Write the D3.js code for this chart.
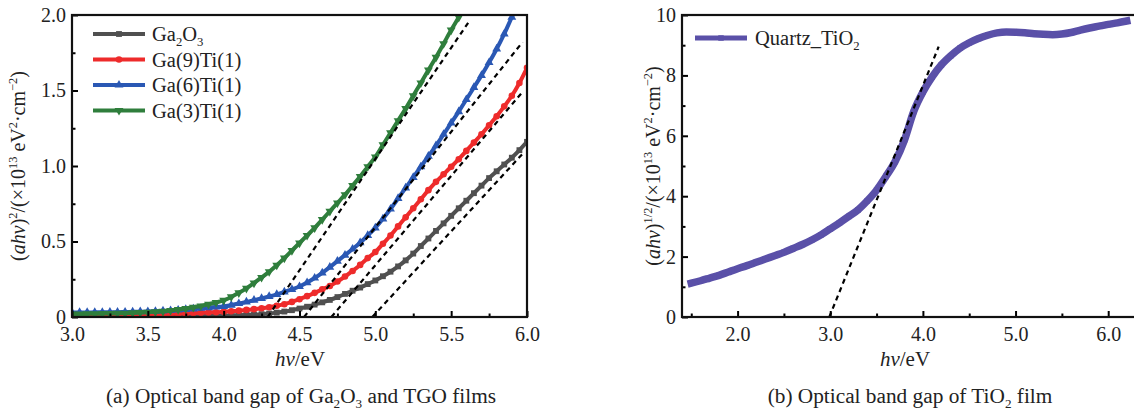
<!DOCTYPE html>
<html>
<head>
<meta charset="utf-8">
<script src="https://cdn.jsdelivr.net/npm/d3@7"></script>
<style>
body { margin: 0; background: #fff; }
text { font-family: "Liberation Serif", "Times New Roman", serif; fill: #222; }
</style>
</head>
<body>
<script>
// ---- data: panel (a) ----
var hvA = [3.00,3.05,3.10,3.15,3.20,3.25,3.30,3.35,3.40,3.45,3.50,3.55,3.60,3.65,3.70,3.75,3.80,3.85,3.90,3.95,4.00,
  4.05,4.10,4.15,4.20,4.25,4.30,4.35,4.40,4.45,4.50,4.55,4.60,4.65,4.70,4.75,4.80,4.85,4.90,4.95,5.00,
  5.05,5.10,5.15,5.20,5.25,5.30,5.35,5.40,5.45,5.50,5.55,5.60,5.65,5.70,5.75,5.80,5.85,5.90,5.95,6.00];

var ga2o3 = [.005,.005,.005,.005,.006,.006,.006,.006,.007,.007,.007,.007,.008,.008,.008,.008,.009,.009,.009,.010,.010,
  .011,.012,.014,.016,.019,.023,.029,.036,.045,.056,.068,.082,.097,.113,.132,.153,.174,.195,.218,.242,
  .270,.300,.335,.375,.420,.470,.520,.570,.620,.670,.720,.770,.820,.870,.920,.965,1.010,1.055,1.105,1.160];
var ga9ti1 = [.010,.010,.010,.011,.011,.012,.012,.013,.014,.015,.016,.017,.018,.020,.022,.024,.026,.028,.030,.032,.035,
  .038,.042,.047,.052,.058,.065,.074,.085,.100,.118,.138,.160,.183,.205,.235,.268,.305,.345,.390,.430,
  .485,.540,.600,.660,.720,.780,.840,.895,.945,.995,1.045,1.100,1.155,1.210,1.270,1.330,1.395,1.465,1.550,1.650];
var ga6ti1 = [.030,.030,.030,.031,.031,.032,.032,.033,.034,.035,.036,.038,.040,.043,.046,.050,.054,.058,.062,.066,.070,
  .079,.089,.100,.111,.123,.136,.150,.166,.183,.202,.228,.258,.292,.330,.370,.410,.450,.492,.540,.590,
  .650,.715,.785,.855,.925,.995,1.065,1.135,1.210,1.285,1.360,1.440,1.520,1.600,1.685,1.775,1.875,1.985,2.090];
var ga3ti1 = [.020,.020,.021,.021,.022,.023,.024,.025,.027,.029,.031,.034,.038,.043,.049,.056,.064,.073,.084,.096,.110,
  .133,.160,.190,.225,.262,.300,.343,.390,.440,.490,.540,.590,.645,.700,.755,.810,.870,.930,.995,1.060,
  1.140,1.220,1.300,1.380,1.465,1.550,1.635,1.720,1.810,1.900,1.985,2.070];

// linear fits (dashed), [hv, value] end points
var fitsA = [
  [[4.98, 0], [5.97, 1.08]],
  [[4.71, 0], [5.97, 1.49]],
  [[4.53, 0], [5.97, 1.82]],
  [[4.29, 0], [5.62, 1.96]]
];

var xTicksA = [3.0, 3.5, 4.0, 4.5, 5.0, 5.5, 6.0];
var xMinorA = [3.25, 3.75, 4.25, 4.75, 5.25, 5.75];
var yTicksA = [0, 0.5, 1.0, 1.5, 2.0];
var yMinorA = [0.25, 0.75, 1.25, 1.75];

// ---- data: panel (b) ----
var hvB = [1.5,1.6,1.7,1.8,1.9,2.0,2.1,2.2,2.3,2.4,2.5,2.6,2.7,2.8,2.9,3.0,3.1,3.2,3.3,3.4,3.5,3.6,3.7,3.8,3.9,
  4.0,4.1,4.2,4.3,4.4,4.5,4.6,4.7,4.8,4.9,5.0,5.1,5.2,5.3,5.4,5.5,5.6,5.7,5.8,5.9,6.0,6.1,6.2];
var quartzTiO2 = [1.12,1.20,1.29,1.38,1.49,1.60,1.70,1.81,1.92,2.03,2.14,2.27,2.40,2.55,2.72,2.92,3.12,3.33,3.55,3.85,4.20,4.65,5.15,5.85,6.80,
  7.45,7.95,8.35,8.65,8.90,9.08,9.22,9.33,9.41,9.44,9.43,9.41,9.38,9.36,9.35,9.37,9.42,9.50,9.57,9.63,9.69,9.74,9.80];
var fitB = [[2.99, 0], [4.17, 8.95]];

var xTicksB = [2.0, 3.0, 4.0, 5.0, 6.0];
var xMinorB = [1.5, 2.5, 3.5, 4.5, 5.5];
var yTicksB = [0, 2, 4, 6, 8, 10];
var yMinorB = [1, 3, 5, 7, 9];

var seriesA = [
  {name: [["Ga"], ["2", "sub"], ["O"], ["3", "sub"]], values: ga2o3, color: "#505050", symbol: d3.symbolSquare, rot: 0},
  {name: [["Ga(9)Ti(1)"]], values: ga9ti1, color: "#ee2b2b", symbol: d3.symbolCircle, rot: 0},
  {name: [["Ga(6)Ti(1)"]], values: ga6ti1, color: "#2a58b4", symbol: d3.symbolTriangle, rot: 0},
  {name: [["Ga(3)Ti(1)"]], values: ga3ti1, color: "#2f7e3c", symbol: d3.symbolTriangle, rot: 180}
];
var purple = "#5a50a8";

var W = 1134, H = 413;
var svg = d3.select("body").append("svg").attr("width", W).attr("height", H);

// text with italic / sub / sup pieces
function richText(g, parts, size) {
  var t = g.append("text").attr("font-size", size);
  var shift = 0;
  parts.forEach(function(p) {
    var ts = t.append("tspan").text(p[0]);
    var kind = p[1] || "";
    var target = 0;
    if (kind == "sup") { target = -size * 0.38; ts.attr("font-size", size * 0.62); }
    if (kind == "sub") { target = size * 0.22; ts.attr("font-size", size * 0.62); }
    if (kind == "it") ts.attr("font-style", "italic");
    if (target - shift != 0) ts.attr("dy", target - shift);
    shift = target;
  });
  return t;
}

function drawFrame(g, x, y, xt, xm, yt, ym, xfmt, yfmt) {
  var x0 = x.range()[0], x1 = x.range()[1], y0 = y.range()[0], y1 = y.range()[1];
  g.append("g").attr("transform", "translate(0," + y0 + ")")
    .call(d3.axisBottom(x).tickValues(xt).tickSizeInner(-6).tickSizeOuter(0).tickPadding(10).tickFormat(xfmt))
    .call(function(a) { a.select(".domain").remove(); a.selectAll("line").attr("stroke-width", 2); a.selectAll("text").attr("font-size", 20).attr("font-family", "Liberation Serif").attr("fill", "#222"); });
  g.append("g").attr("transform", "translate(0," + y0 + ")")
    .call(d3.axisBottom(x).tickValues(xm).tickSizeInner(-3.5).tickSizeOuter(0).tickFormat(""))
    .call(function(a) { a.select(".domain").remove(); a.selectAll("line").attr("stroke-width", 2); });
  g.append("g").attr("transform", "translate(" + x0 + ",0)")
    .call(d3.axisLeft(y).tickValues(yt).tickSizeInner(-6).tickSizeOuter(0).tickPadding(6).tickFormat(yfmt))
    .call(function(a) { a.select(".domain").remove(); a.selectAll("line").attr("stroke-width", 2); a.selectAll("text").attr("font-size", 20).attr("font-family", "Liberation Serif").attr("fill", "#222"); });
  g.append("g").attr("transform", "translate(" + x0 + ",0)")
    .call(d3.axisLeft(y).tickValues(ym).tickSizeInner(-3.5).tickSizeOuter(0).tickFormat(""))
    .call(function(a) { a.select(".domain").remove(); a.selectAll("line").attr("stroke-width", 2); });
  g.append("rect").attr("x", x0).attr("y", y1).attr("width", x1 - x0).attr("height", y0 - y1)
    .attr("fill", "none").attr("stroke", "#111").attr("stroke-width", 2.2);
}

// ---------------- panel (a) ----------------
var xA = d3.scaleLinear().domain([3, 6]).range([72, 527]);
var yA = d3.scaleLinear().domain([0, 2]).range([317, 15]);
var gA = svg.append("g");

svg.append("clipPath").attr("id", "clipA").append("rect")
  .attr("x", xA(3)).attr("y", yA(2)).attr("width", xA(6) - xA(3)).attr("height", yA(0) - yA(2));
var plotA = gA.append("g").attr("clip-path", "url(#clipA)");

var lineA = d3.line().x(function(d) { return xA(d[0]); }).y(function(d) { return yA(d[1]); }).curve(d3.curveMonotoneX);

seriesA.forEach(function(s) {
  var pts = s.values.map(function(v, i) { return [hvA[i], v]; });
  plotA.append("path").datum(pts).attr("d", lineA)
    .attr("fill", "none").attr("stroke", s.color).attr("stroke-width", 4);
  plotA.selectAll(null).data(pts).enter().append("path")
    .attr("d", d3.symbol().type(s.symbol).size(34))
    .attr("transform", function(d) { return "translate(" + xA(d[0]) + "," + yA(d[1]) + ") rotate(" + s.rot + ")"; })
    .attr("fill", s.color);
});

fitsA.forEach(function(f) {
  plotA.append("path").datum(f).attr("d", d3.line().x(function(d) { return xA(d[0]); }).y(function(d) { return yA(d[1]); }))
    .attr("fill", "none").attr("stroke", "#000").attr("stroke-width", 2.2).attr("stroke-dasharray", "5,4");
});

drawFrame(gA, xA, yA, xTicksA, xMinorA, yTicksA, yMinorA, d3.format(".1f"), function(d) { return d == 0 ? "0" : d3.format(".1f")(d); });

// legend (a)
seriesA.forEach(function(s, i) {
  var ly = 34 + i * 25.5;
  var lg = gA.append("g");
  lg.append("line").attr("x1", 93).attr("x2", 145).attr("y1", ly).attr("y2", ly)
    .attr("stroke", s.color).attr("stroke-width", 4);
  lg.append("path").attr("d", d3.symbol().type(s.symbol).size(34))
    .attr("transform", "translate(119," + ly + ") rotate(" + s.rot + ")").attr("fill", s.color);
  richText(lg, s.name, 20.5).attr("x", 152).attr("y", ly + 7);
});

richText(gA, [["("], ["ahv", "it"], [")"], ["2", "sup"], ["/(×10"], ["13", "sup"], [" eV"], ["2", "sup"], ["·cm"], ["−2", "sup"], [")"]], 20)
  .attr("text-anchor", "middle").attr("transform", "translate(25,166) rotate(-90)");
richText(gA, [["hv", "it"], ["/eV"]], 21).attr("text-anchor", "middle").attr("x", 300).attr("y", 366);
richText(gA, [["(a) Optical band gap of Ga"], ["2", "sub"], ["O"], ["3", "sub"], [" and TGO films"]], 21.3)
  .attr("text-anchor", "middle").attr("x", 301).attr("y", 403);

// ---------------- panel (b) ----------------
var xB = d3.scaleLinear().domain([1.4, 6.3]).range([682, 1136]);
var yB = d3.scaleLinear().domain([0, 10]).range([317, 15]);
var gB = svg.append("g");

svg.append("clipPath").attr("id", "clipB").append("rect")
  .attr("x", xB(1.4)).attr("y", yB(10)).attr("width", xB(6.3) - xB(1.4)).attr("height", yB(0) - yB(10));
var plotB = gB.append("g").attr("clip-path", "url(#clipB)");

var ptsB = quartzTiO2.map(function(v, i) { return [hvB[i], v]; });
plotB.append("path").datum(ptsB)
  .attr("d", d3.line().x(function(d) { return xB(d[0]); }).y(function(d) { return yB(d[1]); }).curve(d3.curveMonotoneX))
  .attr("fill", "none").attr("stroke", purple).attr("stroke-width", 7.5).attr("stroke-linecap", "square");
plotB.selectAll(null).data(ptsB).enter().append("path")
  .attr("d", d3.symbol().type(d3.symbolSquare).size(30))
  .attr("transform", function(d) { return "translate(" + xB(d[0]) + "," + yB(d[1]) + ")"; })
  .attr("fill", purple);
plotB.append("path").datum(fitB)
  .attr("d", d3.line().x(function(d) { return xB(d[0]); }).y(function(d) { return yB(d[1]); }))
  .attr("fill", "none").attr("stroke", "#000").attr("stroke-width", 2.2).attr("stroke-dasharray", "5,4");

drawFrame(gB, xB, yB, xTicksB, xMinorB, yTicksB, yMinorB, d3.format(".1f"), d3.format("d"));

var lgB = gB.append("g");
lgB.append("line").attr("x1", 695).attr("x2", 747).attr("y1", 38).attr("y2", 38)
  .attr("stroke", purple).attr("stroke-width", 5);
lgB.append("path").attr("d", d3.symbol().type(d3.symbolSquare).size(30))
  .attr("transform", "translate(721,38)").attr("fill", purple);
richText(lgB, [["Quartz_TiO"], ["2", "sub"]], 20.5).attr("x", 755).attr("y", 45);

richText(gB, [["("], ["ahv", "it"], [")"], ["1/2", "sup"], ["/(×10"], ["13", "sup"], [" eV"], ["2", "sup"], ["·cm"], ["−2", "sup"], [")"]], 20)
  .attr("text-anchor", "middle").attr("transform", "translate(660,166) rotate(-90)");
richText(gB, [["hv", "it"], ["/eV"]], 21).attr("text-anchor", "middle").attr("x", 905).attr("y", 366);
richText(gB, [["(b) Optical band gap of TiO"], ["2", "sub"], [" film"]], 21.3)
  .attr("text-anchor", "middle").attr("x", 910).attr("y", 403);
</script>
</body>
</html>
